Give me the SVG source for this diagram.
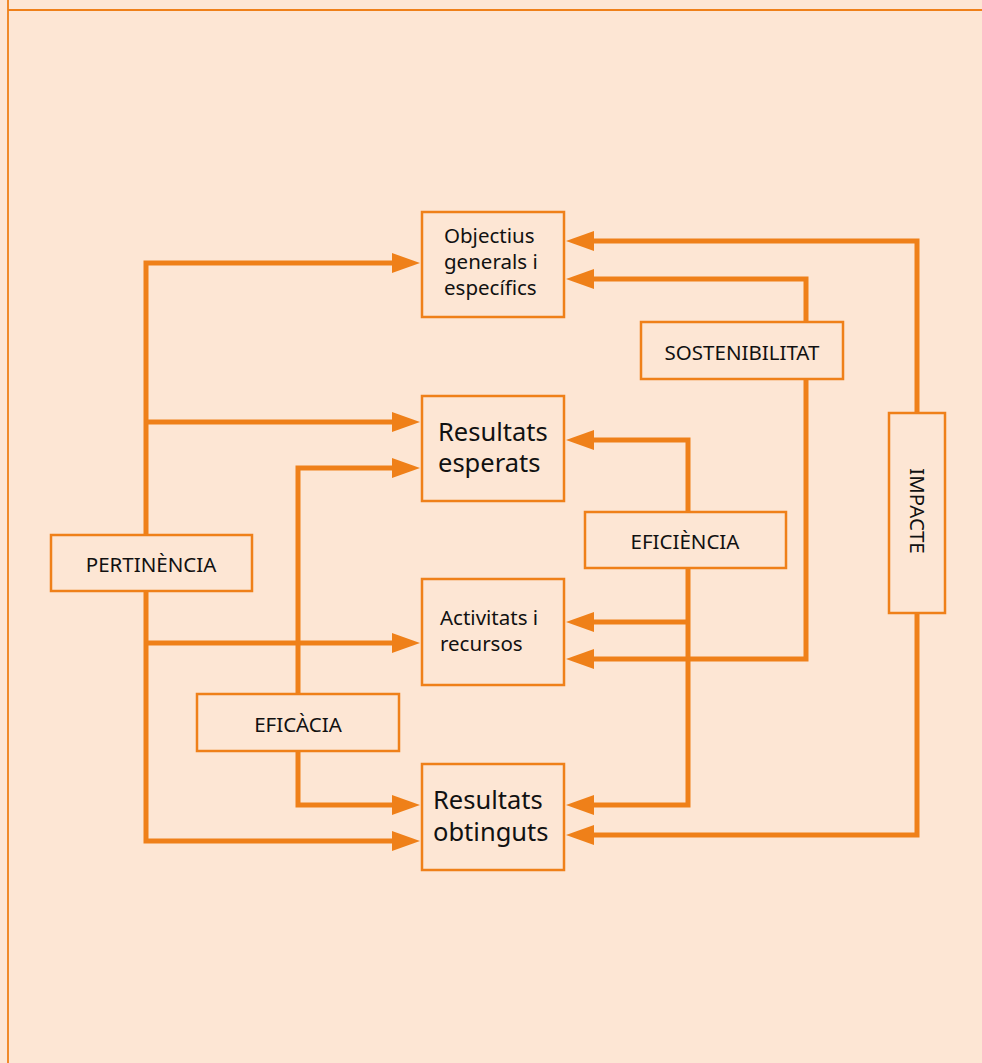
<svg xmlns="http://www.w3.org/2000/svg" width="982" height="1063" viewBox="0 0 982 1063">
<style>
.box{fill:#FDE6D4;stroke:#EF8019;stroke-width:2.5}
.ln{fill:none;stroke:#EF8019;stroke-width:5}
.t{font-family:"Noto Sans","Open Sans",sans-serif;fill:#111}
.s{font-size:20.5px}
.l{font-size:20.5px;text-anchor:middle}
.b{font-size:25.5px}
</style>
<defs>
<marker id="ah" markerWidth="6" markerHeight="4" refX="0" refY="2" orient="auto" markerUnits="strokeWidth">
<path d="M0,0 L5.6,2 L0,4 Z" fill="#EF8019"/>
</marker>
</defs>
<rect x="0" y="0" width="982" height="1063" fill="#FDE6D4"/>
<path d="M8,0 V1063 M8,10 H982" stroke="#EF8019" stroke-width="1.8" fill="none"/>
<g id="connectors">
<path class="ln" d="M146,535 V263 H392" marker-end="url(#ah)"/>
<path class="ln" d="M146,422 H392" marker-end="url(#ah)"/>
<path class="ln" d="M146,591 V841 H392" marker-end="url(#ah)"/>
<path class="ln" d="M146,643 H392" marker-end="url(#ah)"/>
<path class="ln" d="M298,694 V468 H392" marker-end="url(#ah)"/>
<path class="ln" d="M298,751 V805 H392" marker-end="url(#ah)"/>
<path class="ln" d="M917,413 V241 H594" marker-end="url(#ah)"/>
<path class="ln" d="M917,613 V835 H594" marker-end="url(#ah)"/>
<path class="ln" d="M806,322 V279 H594" marker-end="url(#ah)"/>
<path class="ln" d="M806,379 V659 H594" marker-end="url(#ah)"/>
<path class="ln" d="M688,512 V440 H594" marker-end="url(#ah)"/>
<path class="ln" d="M688,568 V805 H594" marker-end="url(#ah)"/>
<path class="ln" d="M688,622 H594" marker-end="url(#ah)"/>
</g>
<g id="objectius">
<rect class="box" x="422" y="212" width="142" height="105"/>
<text class="t s" x="444" y="243">Objectius</text>
<text class="t s" x="444" y="269">generals i</text>
<text class="t s" x="444" y="295">específics</text>
</g>
<g id="resultats-esperats">
<rect class="box" x="422" y="396" width="142" height="105"/>
<text class="t b" x="438" y="441">Resultats</text>
<text class="t b" x="438" y="472">esperats</text>
</g>
<g id="activitats">
<rect class="box" x="422" y="579" width="142" height="106"/>
<text class="t s" x="440" y="625">Activitats i</text>
<text class="t s" x="440" y="651">recursos</text>
</g>
<g id="resultats-obtinguts">
<rect class="box" x="422" y="764" width="142" height="106"/>
<text class="t b" x="433" y="809">Resultats</text>
<text class="t b" x="433" y="841">obtinguts</text>
</g>
<g id="pertinencia">
<rect class="box" x="51" y="535" width="201" height="56"/>
<text class="t l" x="151" y="572">PERTINÈNCIA</text>
</g>
<g id="eficacia">
<rect class="box" x="197" y="694" width="202" height="57"/>
<text class="t l" x="298" y="732">EFICÀCIA</text>
</g>
<g id="eficiencia">
<rect class="box" x="585" y="512" width="201" height="56"/>
<text class="t l" x="685" y="549">EFICIÈNCIA</text>
</g>
<g id="sostenibilitat">
<rect class="box" x="641" y="322" width="202" height="57"/>
<text class="t l" x="742" y="360">SOSTENIBILITAT</text>
</g>
<g id="impacte">
<rect class="box" x="889" y="413" width="56" height="200"/>
<text class="t l" transform="translate(910,511) rotate(90)" x="0" y="0">IMPACTE</text>
</g>
</svg>
